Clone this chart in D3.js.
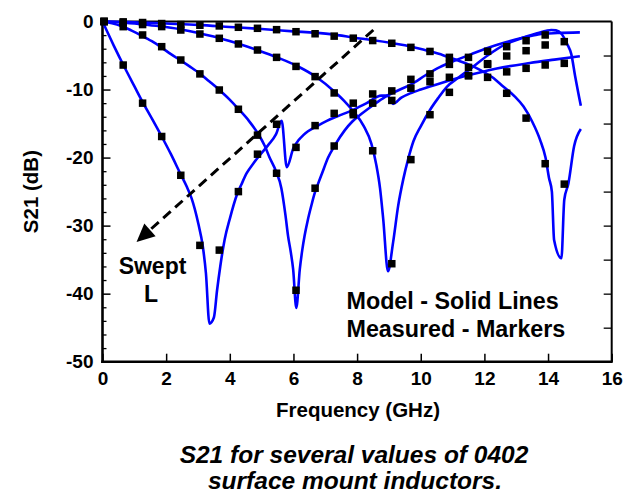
<!DOCTYPE html>
<html>
<head>
<meta charset="utf-8">
<script src="https://cdn.jsdelivr.net/npm/d3@7"></script>
<style>
  html, body { margin: 0; padding: 0; background: #fff; }
  svg { display: block; }
  text { font-family: "Liberation Sans", Arial, Helvetica, sans-serif; font-weight: bold; fill: #000; }
</style>
</head>
<body>
<svg id="chart" width="628" height="494"></svg>
<script>
// ---------------- data ----------------
const seriesNames = ["L1 (largest)", "L2", "L3", "L4 (smallest)"];

// Model (solid lines): [GHz, dB]
const model1 = [[0,0],[0.35,-3.5],[0.7,-6.8],[1.0,-9.5],[1.28,-12.0],[1.58,-14.5],[1.86,-16.9],[2.15,-19.5],[2.44,-22.3],[2.65,-24.3],[2.8,-26],[3.01,-29.7],[3.15,-33],[3.25,-37],[3.36,-44.4],[3.5,-43.5],[3.6,-39.5],[3.7,-36],[3.84,-32],[4.0,-29],[4.22,-25.5],[4.36,-24.0],[4.53,-22.3],[4.75,-20.8],[4.95,-19.6],[5.2,-18.2],[5.45,-16.6],[5.63,-14.6],[5.79,-21.4],[6.0,-18.6],[6.15,-17.5],[6.31,-16.7],[6.77,-15.3],[7.05,-14.6],[7.4,-13.9],[7.82,-13.1],[8.3,-12.0],[8.76,-10.9],[8.95,-10.9],[9.13,-12.1],[9.39,-11.2],[9.7,-10.5],[10.0,-10.0],[10.6,-9.1],[11.34,-8.1],[12.39,-6.9],[13.43,-6.1],[14.2,-5.6],[15.0,-5.1]];
const model2 = [[0,0],[0.3,-0.25],[0.61,-0.7],[0.9,-1.3],[1.24,-2.1],[1.55,-2.9],[1.85,-3.8],[2.15,-4.8],[2.48,-5.8],[2.77,-6.7],[3.07,-7.7],[3.38,-8.9],[3.68,-10.1],[3.98,-11.4],[4.28,-12.9],[4.6,-14.6],[4.89,-16.5],[5.1,-18.3],[5.25,-20.0],[5.45,-22.0],[5.62,-24.5],[5.75,-28.5],[5.83,-31.5],[5.92,-34],[5.99,-36.4],[6.09,-42.1],[6.2,-36.4],[6.28,-33.5],[6.35,-31.5],[6.45,-29.2],[6.56,-27.1],[6.67,-25.2],[6.77,-23.9],[6.9,-22.3],[7.09,-20.0],[7.3,-18.2],[7.61,-16.0],[7.85,-14.7],[8.13,-13.6],[8.5,-12.3],[8.87,-11.1],[9.3,-10.1],[9.71,-9.2],[10.15,-7.9],[10.6,-6.7],[11.1,-5.7],[11.59,-4.8],[12.1,-3.9],[12.64,-3.1],[13.2,-2.4],[13.69,-1.9],[14.3,-1.7],[15.0,-1.6]];
const model3 = [[0,0],[0.6,-0.15],[1.2,-0.4],[1.8,-0.7],[2.4,-1.1],[3.0,-1.7],[3.69,-2.45],[4.3,-3.3],[4.9,-4.25],[5.5,-5.3],[6.1,-6.5],[6.73,-8.2],[7.31,-10.4],[7.6,-11.7],[7.88,-13.2],[8.2,-15.3],[8.45,-18.0],[8.6,-21],[8.72,-24.5],[8.82,-29],[8.97,-36.7],[9.13,-32.5],[9.29,-27.1],[9.45,-23.2],[9.6,-20.3],[9.77,-17.6],[10.0,-15.4],[10.29,-13.0],[10.54,-11.3],[10.82,-9.6],[11.2,-8.2],[11.55,-7.0],[12.1,-5.0],[12.64,-3.4],[13.2,-2.4],[13.69,-1.7],[13.95,-1.35],[14.1,-1.25],[14.25,-1.3],[14.42,-1.8],[14.6,-3.3],[14.73,-4.8],[14.85,-8],[15.03,-12.4]];
const model4 = [[0,0],[1,-0.1],[2,-0.3],[3,-0.5],[4,-0.8],[5,-1.1],[6,-1.45],[7.16,-1.85],[8.09,-2.5],[8.51,-2.75],[9.5,-3.5],[10.29,-4.4],[10.7,-4.95],[11.13,-5.66],[11.5,-6.3],[11.86,-7.1],[12.25,-8.2],[12.6,-9.6],[12.95,-11],[13.23,-12.5],[13.5,-14.7],[13.75,-17.4],[13.92,-20],[14.03,-23],[14.12,-25],[14.19,-32.1],[14.42,-34.8],[14.51,-26.2],[14.64,-23.8],[14.82,-18.3],[15.03,-15.8]];

// Measured (markers): common frequency grid, GHz
const measFreq = [0.05,0.65,1.26,1.86,2.46,3.06,3.67,4.27,4.87,5.47,6.08,6.68,7.28,7.88,8.49,9.09,9.69,10.29,10.90,11.50,12.10,12.70,13.31,13.91,14.51];
const meas1 = [0,-6.4,-12.0,-16.9,-22.6,-32.9,-33.6,-25.0,-19.5,-15.1,-18.5,-15.3,-13.5,-12.0,-10.65,-11.6,-9.8,-8.85,-8.2,-7.96,-6.3,-7.4,-6.88,-6.39,-6.15];
const meas2 = [0,-0.76,-1.98,-3.7,-5.66,-7.7,-10.07,-12.9,-16.7,-22.3,-39.5,-24.5,-18.3,-13.7,-12.0,-10.2,-8.5,-7.7,-6.3,-5.27,-4.38,-3.7,-2.82,-1.98,-2.96];
const meas3 = [0,-0.2,-0.45,-0.75,-1.25,-1.84,-2.47,-3.3,-4.19,-5.27,-6.6,-8.1,-10.5,-13.4,-19.0,-35.6,-20.3,-13.7,-10.41,-7.96,-6.2,-5.07,-4.29,-3.45,null];
const meas4 = [0,-0.05,-0.15,-0.3,-0.45,-0.55,-0.65,-0.85,-1.0,-1.2,-1.5,-1.8,-2.15,-2.45,-2.8,-3.2,-3.8,-4.4,-5.27,-6.74,-8.21,-10.55,-14.2,-20.9,-23.9];

// Axes ticks
const xTicks = [0,2,4,6,8,10,12,14,16];
const yTicks = [0,-10,-20,-30,-40,-50];
const yMinorTicks = [-2,-4,-6,-8,-12,-14,-16,-18,-22,-24,-26,-28,-32,-34,-36,-38,-42,-44,-46,-48];
const yRightTicks = [-5,-10,-15,-20,-25,-30,-35,-40,-45];

// Annotations
const sweptArrow = [[8.51,-1.25],[1.07,-32.4]]; // start, tip
const legendLines = ["Model - Solid Lines", "Measured - Markers"];
const sweptLabel = ["Swept", "L"];
const xTitle = "Frequency (GHz)";
const yTitle = "S21 (dB)";
const caption = ["S21 for several values of 0402", "surface mount inductors."];

// ---------------- drawing ----------------
const svg = d3.select("#chart");
const X0 = 102.5, X1 = 611.7, Y0 = 21.5, Y1 = 361.7;
const x = d3.scaleLinear().domain([0,16]).range([X0, X1]);
const y = d3.scaleLinear().domain([-50,0]).range([Y1, Y0]);

const models = [model1, model2, model3, model4];
const meas = [meas1, meas2, meas3, meas4];
const fmt = d => String(d);  // plain hyphen-minus like the original

// Left axis (major, labelled)
const gL = svg.append("g").attr("transform", `translate(${X0},0)`)
  .call(d3.axisLeft(y).tickValues(yTicks).tickSize(-8).tickPadding(9).tickFormat(fmt));
gL.select(".domain").remove();
gL.selectAll("line").attr("stroke", "#000").attr("stroke-width", 1.5);
gL.selectAll("text").style("font-size", "19px").attr("fill", "#000");

// Left minor ticks
const gLm = svg.append("g").attr("transform", `translate(${X0},0)`)
  .call(d3.axisLeft(y).tickValues(yMinorTicks).tickSize(-4).tickFormat(""));
gLm.select(".domain").remove();
gLm.selectAll("line").attr("stroke", "#000").attr("stroke-width", 1.3);

// Right ticks
const gR = svg.append("g").attr("transform", `translate(${X1},0)`)
  .call(d3.axisRight(y).tickValues(yRightTicks).tickSize(-8).tickFormat(""));
gR.select(".domain").remove();
gR.selectAll("line").attr("stroke", "#000").attr("stroke-width", 1.3);

// Bottom axis
const gB = svg.append("g").attr("transform", `translate(0,${Y1})`)
  .call(d3.axisBottom(x).tickValues(xTicks).tickSize(-8).tickPadding(10).tickFormat(fmt));
gB.select(".domain").remove();
gB.selectAll("line").attr("stroke", "#000").attr("stroke-width", 1.5);
gB.selectAll("text").style("font-size", "19px").attr("fill", "#000");

// Frame
svg.append("line").attr("x1", X0).attr("x2", X1).attr("y1", Y0).attr("y2", Y0).attr("stroke", "#000").attr("stroke-width", 1.8);
svg.append("line").attr("x1", X1).attr("x2", X1).attr("y1", Y0).attr("y2", Y1).attr("stroke", "#000").attr("stroke-width", 2);
svg.append("line").attr("x1", X0).attr("x2", X0).attr("y1", Y0 - 1).attr("y2", Y1 + 1.2).attr("stroke", "#000").attr("stroke-width", 2.6);
svg.append("line").attr("x1", X0 - 1.3).attr("x2", X1 + 1).attr("y1", Y1).attr("y2", Y1).attr("stroke", "#000").attr("stroke-width", 2.6);

// Model lines
const line = d3.line().x(d => x(d[0])).y(d => y(d[1])).curve(d3.curveMonotoneX);
svg.append("g").selectAll("path").data(models).join("path")
  .attr("d", line).attr("fill", "none").attr("stroke", "#0000ff")
  .attr("stroke-width", 2.6).attr("stroke-linejoin", "round");

// Measured markers
const ms = 7.5;
meas.forEach(vals => {
  const pts = measFreq.map((f, i) => [f, vals[i]]).filter(d => d[1] !== null);
  svg.append("g").selectAll("rect").data(pts).join("rect")
    .attr("x", d => x(d[0]) - ms/2).attr("y", d => y(d[1]) - ms/2)
    .attr("width", ms).attr("height", ms).attr("fill", "#000");
});

// Swept-L dashed arrow
const ax0 = x(sweptArrow[0][0]), ay0 = y(sweptArrow[0][1]);
const ax1 = x(sweptArrow[1][0]), ay1 = y(sweptArrow[1][1]);
const len = Math.hypot(ax1 - ax0, ay1 - ay0);
const ux = (ax1 - ax0) / len, uy = (ay1 - ay0) / len;
const headLen = 18, headHalf = 8.5;
const bx = ax1 - ux * headLen, by = ay1 - uy * headLen;
svg.append("line").attr("x1", ax0).attr("y1", ay0).attr("x2", bx + ux * 2).attr("y2", by + uy * 2)
  .attr("stroke", "#000").attr("stroke-width", 3).attr("stroke-dasharray", "10,6");
svg.append("path")
  .attr("d", `M${ax1},${ay1}L${bx - uy * headHalf},${by + ux * headHalf}L${bx + uy * headHalf},${by - ux * headHalf}Z`)
  .attr("fill", "#000");

// Texts
svg.append("text").attr("x", 152.5).attr("y", 273.7).attr("text-anchor", "middle").style("font-size", "23px").text(sweptLabel[0]);
svg.append("text").attr("x", 151).attr("y", 302).attr("text-anchor", "middle").style("font-size", "23px").text(sweptLabel[1]);
svg.append("text").attr("x", 346.5).attr("y", 309.3).style("font-size", "23.3px").text(legendLines[0]);
svg.append("text").attr("x", 346.5).attr("y", 336.7).style("font-size", "23.3px").text(legendLines[1]);

svg.append("text").attr("x", 358).attr("y", 416.7).attr("text-anchor", "middle").style("font-size", "20.5px").text(xTitle);
svg.append("text").attr("transform", `translate(38,${(Y0 + Y1) / 2}) rotate(-90)`).attr("text-anchor", "middle").style("font-size", "20.5px").text(yTitle);

svg.append("text").attr("x", 354).attr("y", 463.3).attr("text-anchor", "middle").style("font-size", "24.5px").style("font-style", "italic").text(caption[0]);
svg.append("text").attr("x", 355).attr("y", 488.5).attr("text-anchor", "middle").style("font-size", "24.5px").style("font-style", "italic").text(caption[1]);
</script>
</body>
</html>
